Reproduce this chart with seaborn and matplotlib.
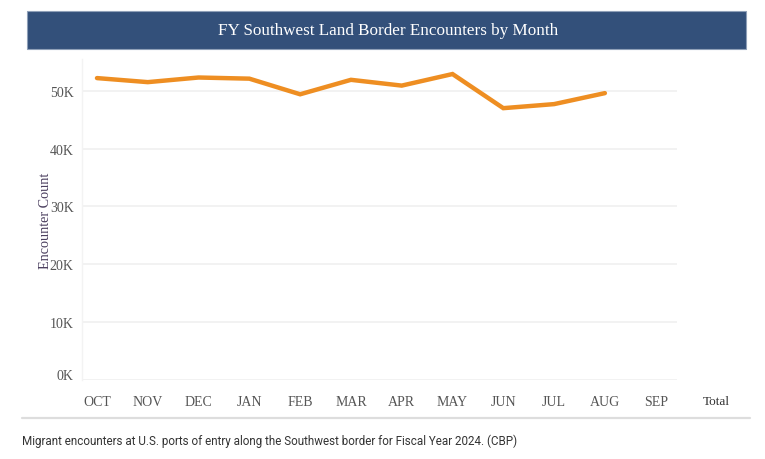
import matplotlib
matplotlib.use("Agg")
import matplotlib.pyplot as plt
import matplotlib.transforms as mtransforms
import seaborn as sns
import pandas as pd
from matplotlib.ticker import FuncFormatter
from matplotlib.patches import Rectangle
from matplotlib.lines import Line2D

months = ["OCT", "NOV", "DEC", "JAN", "FEB", "MAR", "APR", "MAY", "JUN", "JUL", "AUG"]
all_months = ["OCT", "NOV", "DEC", "JAN", "FEB", "MAR", "APR", "MAY", "JUN", "JUL", "AUG", "SEP"]
encounters = [52200, 51500, 52300, 52100, 49400, 51900, 50900, 52900, 47000, 47700, 49600]
y_ticks = [0, 10000, 20000, 30000, 40000, 50000]

title = "FY Southwest Land Border Encounters by Month"
caption = "Migrant encounters at U.S. ports of entry along the Southwest border for Fiscal Year 2024. (CBP)"

sns.set_theme(style="white")
plt.rcParams['font.family'] = ['Liberation Serif', 'DejaVu Serif']

fig = plt.figure(figsize=(7.65, 4.6), dpi=100)
ax = fig.add_axes([82/765, (460-381)/460, (677-82)/765, (381-60)/460])

df = pd.DataFrame({"idx": range(len(months)), "month": months, "count": encounters})
sns.lineplot(data=df, x="idx", y="count", ax=ax, color="#EE8E22", linewidth=3.2,
             solid_capstyle="round", solid_joinstyle="miter")

ax.set_xlim(-0.295, 11.42)
ax.set_ylim(0, 55500)
ax.set_xticks(range(len(all_months)))
ax.set_xticklabels(all_months)
ax.set_yticks(y_ticks)
ax.yaxis.set_major_formatter(FuncFormatter(lambda v, p: f"{int(v/1000)}K"))
ax.tick_params(axis="x", length=0, pad=11, labelsize=10, labelcolor="#555555")
ax.tick_params(axis="y", length=0, pad=6, labelsize=10, labelcolor="#555555")
ax.set_xlabel("")
ax.set_ylabel("Encounter Count", fontsize=10.2, color="#4B3F5F")
ax.yaxis.set_label_coords(-0.051, 0.5)
ax.grid(axis="y", color="#F0F0F0", linewidth=1.2)
ax.set_axisbelow(True)
for s in ["top", "right", "bottom"]:
    ax.spines[s].set_visible(False)
ax.spines["left"].set_color("#F3F3F3")
ax.spines["left"].set_linewidth(1)

# raise the 0K label slightly as in the reference
fig.canvas.draw()
ylabels = ax.get_yticklabels()
if ylabels:
    ylabels[0].set_transform(ylabels[0].get_transform() +
                             mtransforms.ScaledTranslation(0, 6/100, fig.dpi_scale_trans))

# Total column label
fig.text(716/765, 1 - 402/460, "Total", ha="center", va="center", fontsize=9.5, color="#333333")

# title banner
fig.patches.append(Rectangle((27/765, 1 - 50/460), (746-27)/765, 38/460, transform=fig.transFigure,
                             facecolor="#33507A", edgecolor="#8FA0B8", linewidth=0.8))
fig.text(388/765, 1 - 31/460, title, ha="center", va="center", fontsize=12.3, color="white")

# bottom separator
fig.lines.append(Line2D([22/765, 750/765], [1 - 419/460, 1 - 419/460], transform=fig.transFigure,
                        color="#DDDDDD", linewidth=1.6))
fig.text(22/765, 1 - 441/460, caption, ha="left", va="center", fontsize=8.4, color="#333333",
         family=["Roboto", "DejaVu Sans"], stretch="condensed")

fig.savefig("out.png", dpi=100)
